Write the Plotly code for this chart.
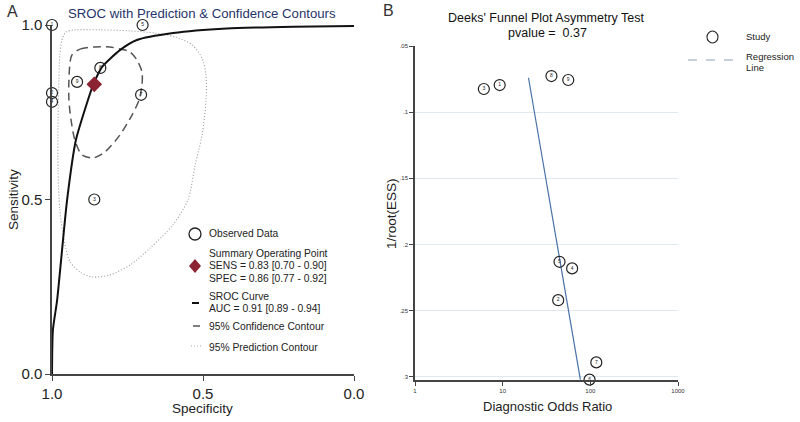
import plotly.graph_objects as go

# ---------------- Panel A data (specificity, sensitivity) ----------------
study_spec = [1.0, 0.70, 0.84, 0.917, 0.705, 1.0, 1.0, 0.86]
study_sens = [1.0, 1.0, 0.877, 0.837, 0.80, 0.805, 0.78, 0.50]
study_lab = ["1", "5", "8", "9", "7", "2", "4", "3"]

summary_spec = [0.86]
summary_sens = [0.83]

sroc_spec = [1.0, 0.997, 0.983, 0.950, 0.921, 0.881, 0.864, 0.834, 0.775, 0.719, 0.599, 0.421, 0.20, 0.0]
sroc_sens = [0.0, 0.126, 0.212, 0.499, 0.670, 0.785, 0.828, 0.880, 0.928, 0.957, 0.977, 0.990, 0.995, 0.997]

conf_spec = [0.934, 0.907, 0.858, 0.808, 0.775, 0.742, 0.719, 0.702, 0.702, 0.712, 0.735, 0.775, 0.825, 0.864, 0.901, 0.924, 0.937, 0.944, 0.944, 0.940, 0.934]
conf_sens = [0.914, 0.931, 0.937, 0.937, 0.931, 0.923, 0.900, 0.865, 0.828, 0.785, 0.742, 0.685, 0.636, 0.619, 0.628, 0.670, 0.728, 0.785, 0.842, 0.894, 0.914]

pred_spec = [0.967, 0.954, 0.924, 0.841, 0.742, 0.659, 0.593, 0.536, 0.503, 0.490, 0.490, 0.503, 0.526, 0.550, 0.600, 0.675, 0.742, 0.808, 0.864, 0.907, 0.940, 0.960, 0.974, 0.980, 0.980, 0.977, 0.974, 0.967]
pred_sens = [0.957, 0.980, 0.986, 0.986, 0.983, 0.977, 0.966, 0.943, 0.905, 0.857, 0.785, 0.685, 0.599, 0.499, 0.427, 0.361, 0.312, 0.284, 0.278, 0.292, 0.321, 0.384, 0.470, 0.585, 0.728, 0.842, 0.914, 0.957]

a_ticks = [0.0, 0.5, 1.0]
a_ticklabels = ["0.0", "0.5", "1.0"]

legend_a_lines = [
    ("Observed Data", 234),
    ("Summary Operating Point", 253),
    ("SENS = 0.83 [0.70 - 0.90]", 265),
    ("SPEC = 0.86 [0.77 - 0.92]", 278),
    ("SROC Curve", 296),
    ("AUC = 0.91 [0.89 - 0.94]", 308),
    ("95% Confidence Contour", 326),
    ("95% Prediction Contour", 347),
]

# ---------------- Panel B data ----------------
b_dor = [6.1, 9.25, 36, 56, 44.5, 62, 43, 117, 98]
b_inv_ess = [0.0825, 0.0795, 0.0727, 0.0757, 0.213, 0.218, 0.242, 0.289, 0.302]
b_lab = ["3", "1", "8", "9", "5", "4", "2", "7", "6"]

reg_dor = [19.7, 77]
reg_inv_ess = [0.074, 0.302]

b_yticks = [0.05, 0.1, 0.15, 0.2, 0.25, 0.3]
b_yticklabels = [".05", ".1", ".15", ".2", ".25", ".3"]
b_xticks = [1, 10, 100, 1000]
b_xticklabels = ["1", "10", "100", "1000"]

FONT = "Liberation Sans, Arial, sans-serif"
W, H = 800, 422


def px(x):
    return x / W


def py(y):
    return 1 - y / H


fig = go.Figure()

# Panel A traces
fig.add_trace(go.Scatter(x=pred_spec, y=pred_sens, mode="lines", line=dict(color="#9a9a9a", width=1.1, dash="1px,2px", shape="spline", smoothing=0.8), xaxis="x", yaxis="y", hoverinfo="skip"))
fig.add_trace(go.Scatter(x=conf_spec, y=conf_sens, mode="lines", line=dict(color="#555555", width=1.5, dash="8px,5px", shape="spline", smoothing=0.8), xaxis="x", yaxis="y", hoverinfo="skip"))
fig.add_trace(go.Scatter(x=sroc_spec, y=sroc_sens, mode="lines", line=dict(color="#111111", width=2, shape="spline", smoothing=0.6), xaxis="x", yaxis="y", hoverinfo="skip"))
fig.add_trace(go.Scatter(x=study_spec, y=study_sens, mode="markers+text", text=study_lab, textposition="middle center", textfont=dict(size=5, color="#222", family=FONT), marker=dict(symbol="circle-open", size=11, color="#222222", line=dict(width=1.2)), xaxis="x", yaxis="y", cliponaxis=False))
fig.add_trace(go.Scatter(x=summary_spec, y=summary_sens, mode="markers", marker=dict(symbol="diamond", size=12, color="#8b2332"), xaxis="x", yaxis="y", cliponaxis=False))

# Panel B traces
fig.add_trace(go.Scatter(x=reg_dor, y=reg_inv_ess, mode="lines", line=dict(color="#4a72a8", width=1.2), xaxis="x2", yaxis="y2", hoverinfo="skip"))
fig.add_trace(go.Scatter(x=b_dor, y=b_inv_ess, mode="markers+text", text=b_lab, textposition="middle center", textfont=dict(size=5, color="#222", family=FONT), marker=dict(symbol="circle-open", size=11, color="#222222", line=dict(width=1.2)), xaxis="x2", yaxis="y2", cliponaxis=False))

axis_a = dict(showline=True, linecolor="#444444", linewidth=1.5, ticks="outside", ticklen=5, tickcolor="#444444",
              zeroline=False, showgrid=False, automargin=False, tickfont=dict(size=15, color="#222"))
axis_b = dict(showline=True, linecolor="#444444", linewidth=1.5, ticks="outside", ticklen=4, tickcolor="#444444",
              zeroline=False, automargin=False, tickfont=dict(size=6, color="#333"))

fig.update_layout(
    width=W, height=H, margin=dict(l=0, r=0, t=0, b=0),
    paper_bgcolor="white", plot_bgcolor="white", showlegend=False,
    font=dict(family=FONT, color="#222222"),
    xaxis=dict(domain=[px(52), px(354)], range=[1.0, 0.0], tickvals=a_ticks, ticktext=a_ticklabels, anchor="y", **axis_a),
    yaxis=dict(domain=[py(374), py(25)], range=[0.0, 1.0], tickvals=a_ticks, ticktext=a_ticklabels, anchor="x", **axis_a),
    xaxis2=dict(domain=[px(415), px(678)], type="log", range=[0, 3], tickvals=b_xticks, ticktext=b_xticklabels, anchor="y2",
                showgrid=False, **axis_b),
    yaxis2=dict(domain=[py(380), py(46)], range=[0.3023, 0.05], tickvals=b_yticks, ticktext=b_yticklabels, anchor="x2",
                showgrid=True, gridcolor="#dfe9ee", gridwidth=1, **axis_b),
)

ann = []
shapes = []
# panel labels & titles
ann.append(dict(x=px(12), y=py(12), text="A", font=dict(size=16, color="#333")))
ann.append(dict(x=px(388), y=py(11), text="B", font=dict(size=16, color="#333")))
ann.append(dict(x=px(202), y=py(13), text="SROC with Prediction & Confidence Contours", font=dict(size=13.2, color="#26346a")))
ann.append(dict(x=px(546), y=py(18), text="Deeks' Funnel Plot Asymmetry Test", font=dict(size=12.5, color="#111")))
ann.append(dict(x=px(547), y=py(33), text="pvalue =  0.37", font=dict(size=12.5, color="#111")))
# axis titles
ann.append(dict(x=px(13), y=py(200), text="Sensitivity", textangle=-90, font=dict(size=13.5)))
ann.append(dict(x=px(203), y=py(408), text="Specificity", font=dict(size=13.5)))
ann.append(dict(x=px(391), y=py(214), text="1/root(ESS)", textangle=-90, font=dict(size=13.5)))
ann.append(dict(x=px(547), y=py(406), text="Diagnostic Odds Ratio", font=dict(size=13)))

# Panel A legend
lx = 207
for txt, yy in legend_a_lines:
    ann.append(dict(x=px(lx), y=py(yy), text=txt, xanchor="left", font=dict(size=10.3)))
shapes.append(dict(type="circle", xref="paper", yref="paper", x0=px(189), x1=px(201), y0=py(240), y1=py(228), line=dict(color="#222", width=1.3)))
shapes.append(dict(type="path", xref="paper", yref="paper",
                   path=f"M {px(195)} {py(259)} L {px(201)} {py(266)} L {px(195)} {py(273)} L {px(189)} {py(266)} Z",
                   fillcolor="#8b2332", line=dict(width=0)))
shapes.append(dict(type="line", xref="paper", yref="paper", x0=px(192), x1=px(199), y0=py(303), y1=py(303), line=dict(color="#111", width=2)))
shapes.append(dict(type="line", xref="paper", yref="paper", x0=px(193), x1=px(200), y0=py(326), y1=py(326), line=dict(color="#555", width=1.5)))
shapes.append(dict(type="line", xref="paper", yref="paper", x0=px(191), x1=px(201), y0=py(346), y1=py(346), line=dict(color="#aaa", width=1.1, dash="1px,2px")))

# Panel B legend
ann.append(dict(x=px(744), y=py(37), text="Study", xanchor="left", font=dict(size=9.5)))
ann.append(dict(x=px(744), y=py(56), text="Regression", xanchor="left", font=dict(size=9.5)))
ann.append(dict(x=px(744), y=py(67), text="Line", xanchor="left", font=dict(size=9.5)))
shapes.append(dict(type="circle", xref="paper", yref="paper", x0=px(707), x1=px(718), y0=py(43), y1=py(31), line=dict(color="#222", width=1.1)))
shapes.append(dict(type="line", xref="paper", yref="paper", x0=px(688), x1=px(736), y0=py(60), y1=py(60), line=dict(color="#8ea3bb", width=1.2, dash="dash")))

for a in ann:
    a.setdefault("xref", "paper")
    a.setdefault("yref", "paper")
    a.setdefault("showarrow", False)
    a.setdefault("xanchor", "center")
    a.setdefault("yanchor", "middle")
fig.update_layout(annotations=ann, shapes=shapes)

fig.write_html("out.html", config={"displayModeBar": False},
               post_script="document.body.style.margin='0';document.body.style.overflow='hidden';")
